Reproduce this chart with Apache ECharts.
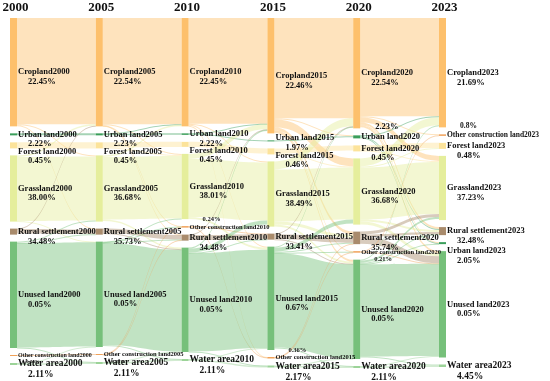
<!DOCTYPE html>
<html><head><meta charset="utf-8">
<script src="https://cdn.jsdelivr.net/npm/echarts@6/dist/echarts.min.js"></script>
<style>html,body{margin:0;padding:0;background:#fff}#c{width:550px;height:381px}</style>
</head><body><div id="c"></div>
<script>
// ---------- data ----------
const years = ['2000', '2005', '2010', '2015', '2020', '2023'];
const codes = ['C', 'U', 'F', 'G', 'R', 'N', 'O', 'W'];
const landTypes = ['Cropland', 'Urban land', 'Forest land', 'Grassland', 'Rural settlement', 'Unused land', 'Other construction land', 'Water area'];

// vertical order of the land types in each year column
const columnOrder = [
  ['C', 'U', 'F', 'G', 'R', 'N', 'O', 'W'],
  ['C', 'U', 'F', 'G', 'R', 'N', 'O', 'W'],
  ['C', 'U', 'F', 'G', 'O', 'R', 'N', 'W'],
  ['C', 'U', 'F', 'G', 'R', 'N', 'O', 'W'],
  ['C', 'U', 'F', 'G', 'R', 'O', 'N', 'W'],
  ['C', 'O', 'F', 'G', 'R', 'U', 'N', 'W']
];

// estimated node sizes (order C,U,F,G,R,N,O,W)
const size2000 = [108, 2, 6, 66, 6, 106, 1, 2];
const size2005 = [108, 2, 6, 66, 6, 105, 1, 2];
const size2010 = [108, 1.5, 5, 65, 6, 104, 1.5, 2];
const size2015 = [115, 1, 6, 65, 6, 103, 1.5, 2];
const size2020 = [110, 3, 6, 66, 12.5, 99, 1.5, 2];
const size2023 = [109, 2, 6, 64, 8, 106, 1.5, 2.5];
const nodeSizes = [size2000, size2005, size2010, size2015, size2020, size2023];

// percentage texts shown in the labels (order C,U,F,G,R,N,O,W)
const pct2000 = ['22.45%', '2.22%', '0.45%', '38.00%', '34.48%', '0.05%', '0.24%', '2.11%'];
const pct2005 = ['22.54%', '2.23%', '0.45%', '36.68%', '35.73%', '0.05%', '0.21%', '2.11%'];
const pct2010 = ['22.45%', '2.22%', '0.45%', '38.01%', '34.48%', '0.05%', '0.24%', '2.11%'];
const pct2015 = ['22.46%', '1.97%', '0.46%', '38.49%', '33.41%', '0.67%', '0.36%', '2.17%'];
const pct2020 = ['22.54%', '2.23%', '0.45%', '36.68%', '35.74%', '0.05%', '0.21%', '2.11%'];
const pct2023 = ['21.69%', '2.05%', '0.48%', '37.23%', '32.48%', '0.05%', '0.8%', '4.45%'];
const pctTexts = [pct2000, pct2005, pct2010, pct2015, pct2020, pct2023];

// transitions between consecutive years: [from, to, amount]
const flow2000to2005 = [
  ['C','C',106],['C','G',1],['C','R',1],['U','U',2],['F','F',6],
  ['G','G',64],['G','C',1.5],['G','N',0.5],['R','R',4.5],['R','C',0.5],
  ['N','N',104],['N','G',1],['N','R',0.5],['N','W',0.5],['O','O',1],['W','W',1.5],['W','N',0.5]
];
const flow2005to2010 = [
  ['C','C',106],['C','G',1],['C','O',0.5],['C','R',0.5],['U','U',1.5],['U','C',0.5],
  ['F','F',5],['F','G',1],['G','G',62.5],['G','C',1.5],['G','N',1.5],['R','R',4.5],['R','N',0.5],
  ['N','N',101.5],['N','G',0.5],['N','R',0.5],['N','O',0.5],['N','W',0.5],
  ['O','O',0.5],['O','R',0.5],['W','W',1.5],['W','N',0.5]
];
const flow2010to2015 = [
  ['C','C',105.5],['C','G',1],['C','N',1],['C','O',0.5],['U','U',1],['U','C',0.5],
  ['F','F',5],['G','G',58],['G','C',5],['G','N',2],['O','O',1],['O','R',0.5],
  ['R','R',5],['R','C',0.5],['N','N',98],['N','G',4],['N','R',0.5],['N','W',0.5],['N','C',1],
  ['W','W',1.5],['W','N',0.5]
];
const flow2015to2020 = [
  ['C','C',100],['C','G',8],['C','R',3],['C','U',1],['C','N',2],['C','O',0.5],
  ['U','U',1],['F','F',5],['F','G',1],['G','G',52],['G','C',8],['G','R',3],['G','N',2],
  ['R','R',5],['R','N',0.5],['R','C',0.5],
  ['N','N',94],['N','G',4],['N','R',1],['N','C',1],['N','W',0.5],['N','O',0.5],
  ['O','O',0.5],['O','R',0.5],['W','W',1.5],['W','N',0.5]
];
const flow2020to2023 = [
  ['C','C',98],['C','O',1],['C','G',5],['C','R',2],['C','U',1],['C','N',2],
  ['U','U',0.5],['U','R',1],['U','C',1],['F','F',5],['F','G',1],
  ['G','G',52],['G','C',8],['G','N',3],['G','R',2],['G','F',1],
  ['R','R',2],['R','G',3],['R','N',7],['O','O',0.5],['O','N',0.5],
  ['N','N',92],['N','G',2],['N','U',0.5],['N','W',1],['N','C',1],['N','R',1],
  ['W','W',1.5],['W','N',0.5]
];
const flows = [flow2000to2005, flow2005to2010, flow2010to2015, flow2015to2020, flow2020to2023];

// ---------- styling ----------
const colors = {C:'#FDC06C', U:'#3A9E5A', F:'#FCE39A', G:'#E5EE9C', R:'#A98B6C', N:'#76C07A', O:'#F0A159', W:'#9CD398'};
const FONT = '"Liberation Serif","Times New Roman",serif';
const L = {left: 10, right: 104, top: 18, bottom: 13, nodeWidth: 7, nodeGap: 7};
// extra vertical nudges of some labels (to avoid overlaps), by code + year index
const labelNudge = {F0: 6, F1: 6, F2: 6, F3: 4, U3: -3, U5: 8};

function nodeName(code, yi) { return landTypes[codes.indexOf(code)] + years[yi]; }

function labelFor(code, yi) {
  const idx = codes.indexOf(code);
  const name = nodeName(code, yi);
  const pct = pctTexts[yi][idx];
  let ns = 8.5, ps = 8.5, pad = 10;
  if (code === 'W') { ns = 9.5; ps = 9.5; }
  if (code === 'O') { ns = [6, 6.5, 6.5, 6.5, 6.5, 7.5][yi]; ps = yi < 2 ? 5 : ns; pad = yi < 2 ? 8 : 13; }
  const above = (code === 'O' && (yi === 2 || yi === 3 || yi === 5)) || (code === 'U' && yi === 4);
  if (code === 'U' && yi === 4) pad = 14;
  const hn = ns + 1.2, hp = ps + 1.2;
  const nudge = labelNudge[code + yi] || 0;
  return {
    show: true, position: 'right', distance: 1,
    formatter: above ? '{p|' + pct + '}\n{n|' + name + '}' : '{n|' + name + '}\n{p|' + pct + '}',
    offset: [0, (above ? -hp / 2 : hp / 2) + nudge],
    rich: {
      n: {fontFamily: FONT, fontWeight: 'bold', fontSize: ns, lineHeight: hn, color: '#111'},
      p: {fontFamily: FONT, fontWeight: 'bold', fontSize: ps, lineHeight: hp, color: '#111', padding: [0, 0, 0, pad]}
    }
  };
}

const nodes = [];
years.forEach(function (y, yi) {
  columnOrder[yi].forEach(function (code) {
    nodes.push({
      name: nodeName(code, yi),
      value: nodeSizes[yi][codes.indexOf(code)],
      depth: yi,
      itemStyle: {color: colors[code], borderWidth: 0},
      label: labelFor(code, yi)
    });
  });
});
const links = [];
flows.forEach(function (list, ti) {
  list.forEach(function (f) {
    links.push({source: nodeName(f[0], ti), target: nodeName(f[1], ti + 1), value: f[2]});
  });
});

const chartW = 550 - L.left - L.right;
const graphics = years.map(function (y, i) {
  const x = L.left + i * (chartW - L.nodeWidth) / (years.length - 1) + L.nodeWidth / 2 + 2;
  return {type: 'text', x: x, y: 8, style: {text: y, font: 'bold 13px ' + FONT, fill: '#111', textAlign: 'center', textVerticalAlign: 'middle'}};
});

const chart = echarts.init(document.getElementById('c'), null, {renderer: 'canvas'});
chart.setOption({
  animation: false,
  backgroundColor: '#fff',
  graphic: graphics,
  series: [{
    type: 'sankey',
    left: L.left, right: L.right, top: L.top, bottom: L.bottom,
    nodeWidth: L.nodeWidth, nodeGap: L.nodeGap,
    layoutIterations: 0,
    nodeAlign: 'justify',
    draggable: false,
    emphasis: {disabled: true},
    data: nodes,
    links: links,
    lineStyle: {color: 'source', opacity: 0.45, curveness: 0.5},
    label: {show: true, position: 'right'}
  }]
});
</script>
</body></html>
